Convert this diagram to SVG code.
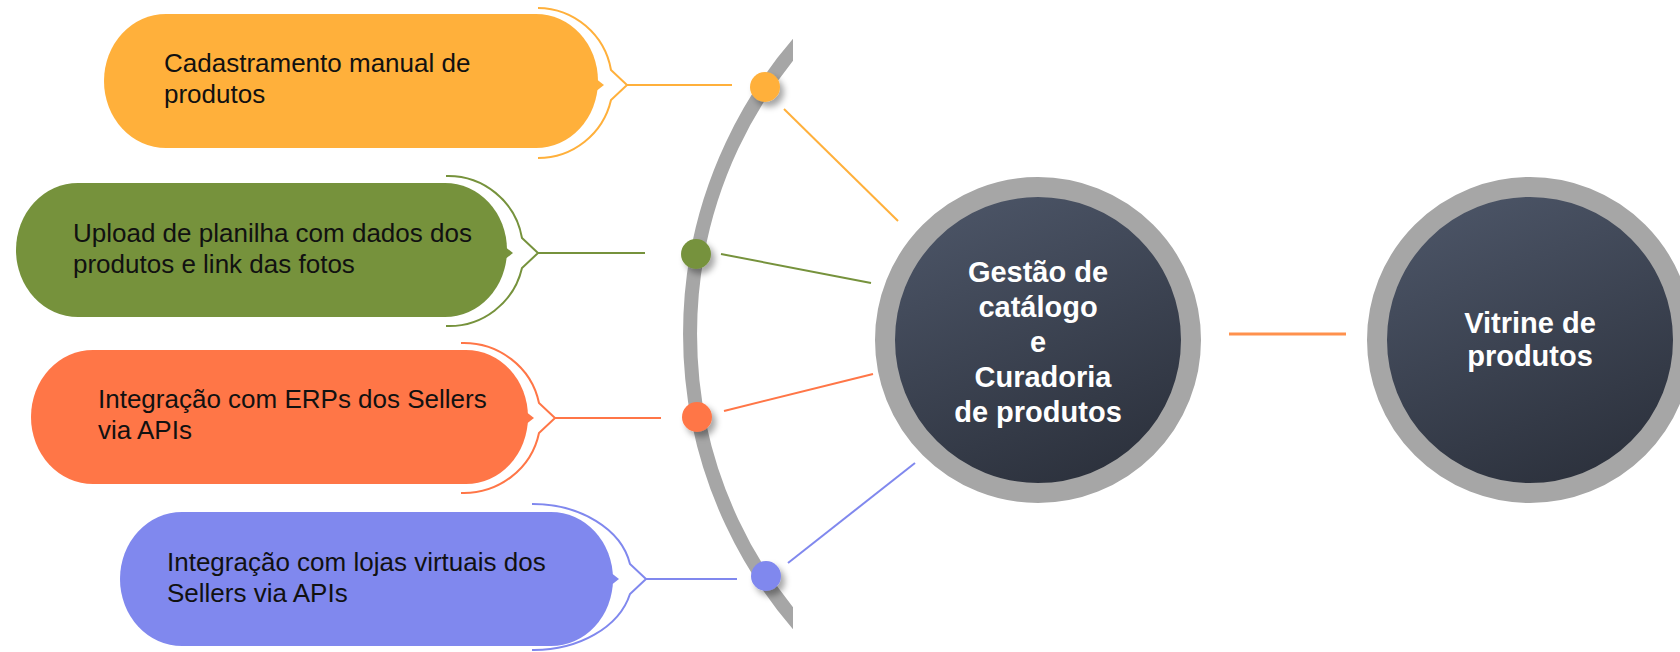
<svg xmlns="http://www.w3.org/2000/svg" width="1680" height="652" viewBox="0 0 1680 652">
<style>
.t{font-family:"Liberation Sans",Arial,sans-serif;font-size:26px;fill:#111111}
.w{font-family:"Liberation Sans",Arial,sans-serif;font-size:29px;font-weight:bold;fill:#ffffff;text-anchor:middle}
.br{fill:none;stroke-width:2}
.ln{stroke-width:2;fill:none}
.ring{stroke:#a6a6a6;stroke-width:20}
</style>
<defs>
<linearGradient id="dark" x1="0.3" y1="0" x2="0.7" y2="1">
<stop offset="0" stop-color="#4c5567"/>
<stop offset="1" stop-color="#2b303b"/>
</linearGradient>
<filter id="sh" x="-50%" y="-50%" width="200%" height="200%">
<feDropShadow dx="4" dy="5" stdDeviation="3" flood-color="#000" flood-opacity="0.35"/>
</filter>
<clipPath id="clipArc"><rect x="0" y="0" width="793" height="652"/></clipPath>
</defs>

<path d="M837,4 A444,444 0 0 0 837,664" fill="none" stroke="#a6a6a6" stroke-width="14" clip-path="url(#clipArc)"/>

<g id="connectors">
<line class="ln" stroke="#ffb03b" x1="627" y1="85" x2="732" y2="85"/>
<line class="ln" stroke="#ffb03b" x1="784" y1="109" x2="898" y2="221"/>
<line class="ln" stroke="#76923c" x1="538" y1="253" x2="645" y2="253"/>
<line class="ln" stroke="#76923c" x1="721" y1="254" x2="871" y2="283"/>
<line class="ln" stroke="#ff7647" x1="555" y1="418" x2="661" y2="418"/>
<line class="ln" stroke="#ff7647" x1="724" y1="411" x2="873" y2="374"/>
<line class="ln" stroke="#8088ee" x1="646" y1="579" x2="737" y2="579"/>
<line class="ln" stroke="#8088ee" x1="788" y1="563" x2="915" y2="463"/>
<line stroke="#ff914d" stroke-width="3" x1="1229" y1="334" x2="1346" y2="334"/>
</g>

<g id="node-cadastramento">
<rect x="104" y="14" width="494" height="134" rx="62" ry="67" fill="#ffb03b"/>
<polygon points="595,78 604,85 595,92" fill="#ffb03b"/>
<path class="br" stroke="#ffb03b" d="M538,8 A75,75 0 0 1 611,70 L627,85 L611,100 A75,75 0 0 1 538,158"/>
<text class="t" x="164" y="72">Cadastramento manual de</text>
<text class="t" x="164" y="103">produtos</text>
<circle cx="765" cy="87" r="15" fill="#ffb03b" filter="url(#sh)"/>
</g>

<g id="node-upload">
<rect x="16" y="183" width="491" height="134" rx="62" ry="67" fill="#76923c"/>
<polygon points="504,246 513,253 504,260" fill="#76923c"/>
<path class="br" stroke="#76923c" d="M446,176 A75,75 0 0 1 522,238 L538,253 L522,268 A75,75 0 0 1 446,326"/>
<text class="t" x="73" y="242">Upload de planilha com dados dos</text>
<text class="t" x="73" y="273">produtos e link das fotos</text>
<circle cx="696" cy="254" r="15" fill="#76923c" filter="url(#sh)"/>
</g>

<g id="node-erp">
<rect x="31" y="350" width="497" height="134" rx="62" ry="67" fill="#ff7647"/>
<polygon points="525,411 534,418 525,425" fill="#ff7647"/>
<path class="br" stroke="#ff7647" d="M461,343 A77,75 0 0 1 539,403 L555,418 L539,433 A77,75 0 0 1 461,493"/>
<text class="t" x="98" y="408">Integração com ERPs dos Sellers</text>
<text class="t" x="98" y="439">via APIs</text>
<circle cx="697" cy="417" r="15" fill="#ff7647" filter="url(#sh)"/>
</g>

<g id="node-lojas">
<rect x="120" y="512" width="493" height="134" rx="62" ry="67" fill="#8088ee"/>
<polygon points="610,572 619,579 610,586" fill="#8088ee"/>
<path class="br" stroke="#8088ee" d="M532,504 A99,73 0 0 1 630,564 L646,579 L630,594 A99,73 0 0 1 532,650"/>
<text class="t" x="167" y="571">Integração com lojas virtuais dos</text>
<text class="t" x="167" y="602">Sellers via APIs</text>
<circle cx="766" cy="576" r="15" fill="#8088ee" filter="url(#sh)"/>
</g>

<g id="node-gestao">
<circle class="ring" cx="1038" cy="340" r="153" fill="url(#dark)"/>
<text class="w" x="1038" y="282">Gestão de</text>
<text class="w" x="1038" y="317">catálogo</text>
<text class="w" x="1038" y="352">e</text>
<text class="w" x="1043" y="387">Curadoria</text>
<text class="w" x="1038" y="422">de produtos</text>
</g>

<g id="node-vitrine">
<circle class="ring" cx="1530" cy="340" r="153" fill="url(#dark)"/>
<text class="w" x="1530" y="333">Vitrine de</text>
<text class="w" x="1530" y="366">produtos</text>
</g>
</svg>
